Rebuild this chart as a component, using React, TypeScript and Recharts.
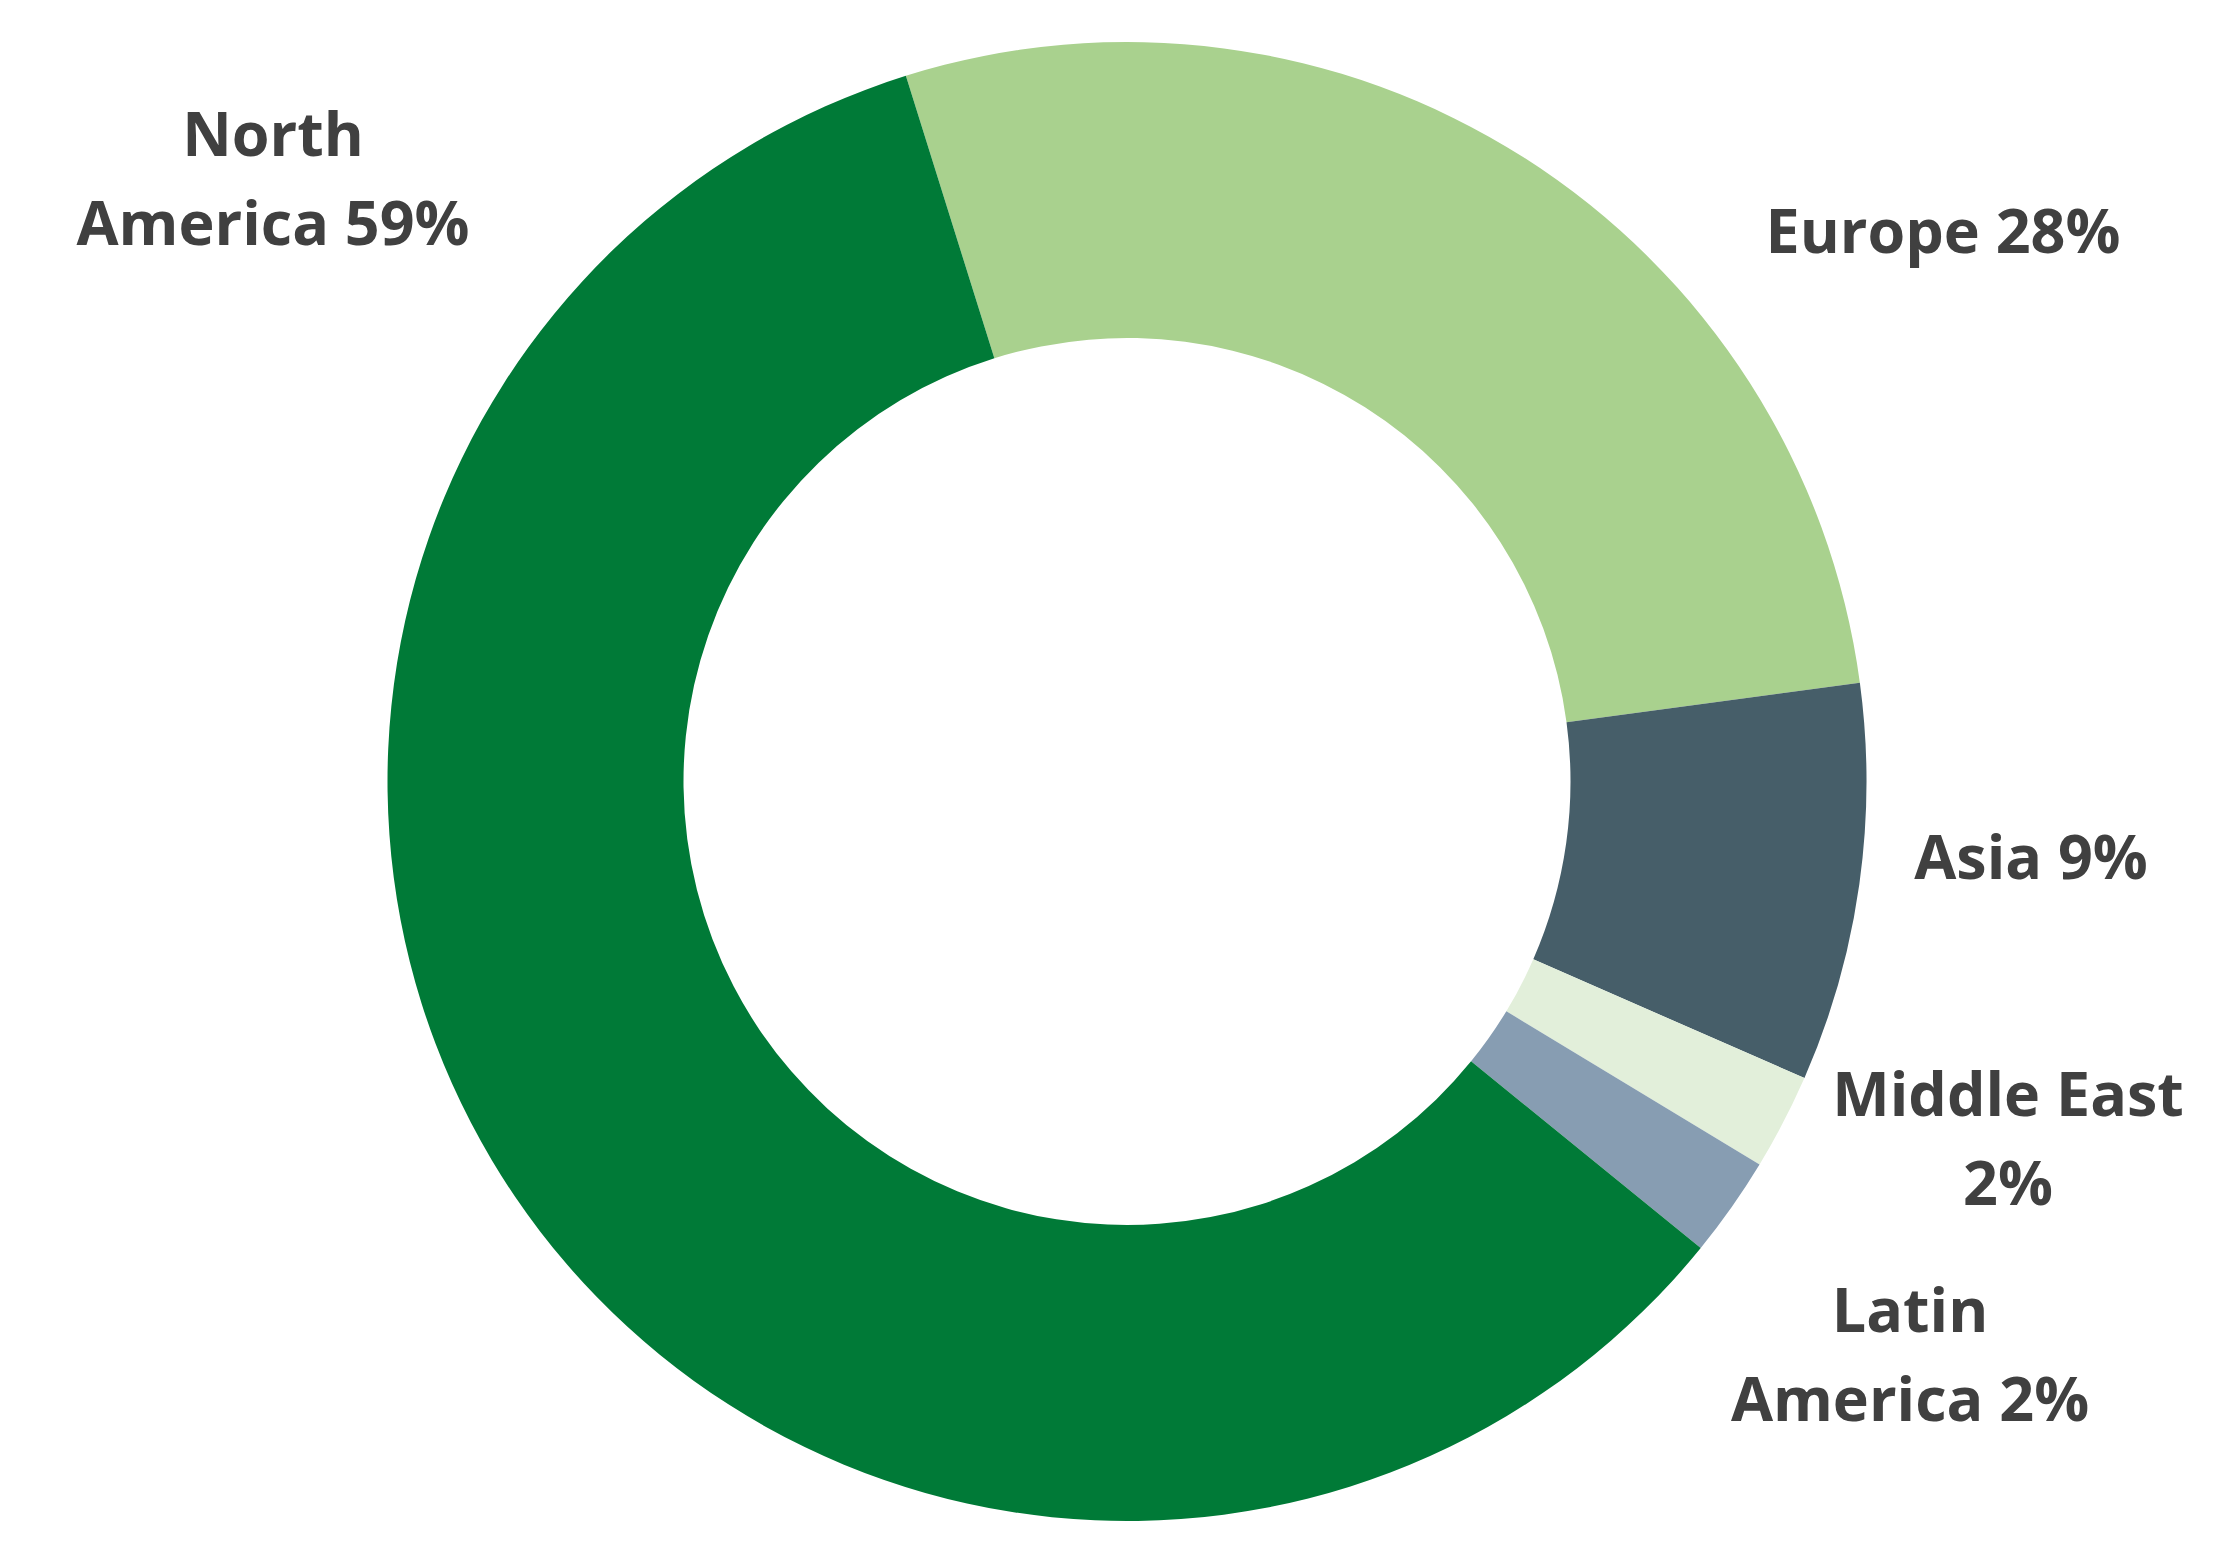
// Regional split donut. Slices run clockwise from just left of 12 o'clock,
// labels sit outside the ring the way Excel placed them.
import { Cell, Pie, PieChart } from 'recharts'

const REGIONS = ['Europe', 'Asia', 'Middle East', 'Latin America', 'North America']
const SHARES = [27.7, 8.7, 2.1, 2.2, 59.3]
const LABEL_LINES = [
  ['Europe'],
  ['Asia'],
  ['Middle East', ''],
  ['Latin', 'America'],
  ['North', 'America'],
]

const COLORS = ['#A9D18E', '#465E69', '#E2EFDA', '#879DB2', '#007A37']

// label anchor (centre x, first baseline) relative to the pie centre
const LABEL_OFFSETS = [
  { dx: 816, dy: -529 },
  { dx: 904, dy: 97 },
  { dx: 881, dy: 334 },
  { dx: 783, dy: 550 },
  { dx: -854, dy: -626 },
]

const TEXT_STYLE = {
  fontFamily: '"Open Sans", Lato, sans-serif',
  fontWeight: 700,
  fontSize: 61,
  fill: '#404040',
}
const LINE_STEP = 89

const data = REGIONS.map((name, i) => ({ name, value: SHARES[i] }))

function renderLabel(props: any) {
  const { cx, cy, index, value } = props
  const pct = `${Math.round(value)}%`
  const lines = LABEL_LINES[index].map((line, i, arr) =>
    i === arr.length - 1 ? (line ? `${line} ${pct}` : pct) : line,
  )
  const { dx, dy } = LABEL_OFFSETS[index]
  return (
    <text key={`label-${index}`} textAnchor="middle" style={TEXT_STYLE}>
      {lines.map((line, i) => (
        <tspan key={i} x={cx + dx} y={cy + dy + i * LINE_STEP}>
          {line}
        </tspan>
      ))}
    </text>
  )
}

export default function App() {
  return (
    <div style={{ position: 'fixed', left: 0, top: 0, width: 2223, height: 1551, background: '#fff' }}>
      <PieChart width={2223} height={1551} margin={{ top: 0, right: 0, bottom: 0, left: 0 }}>
        <Pie
          data={data}
          dataKey="value"
          nameKey="name"
          cx={1127}
          cy={781.5}
          innerRadius={443.5}
          outerRadius={739.5}
          startAngle={107.4}
          endAngle={-252.6}
          stroke="none"
          label={renderLabel}
          labelLine={false}
          isAnimationActive={false}
        >
          {data.map((entry, i) => (
            <Cell key={entry.name} fill={COLORS[i]} />
          ))}
        </Pie>
      </PieChart>
    </div>
  )
}
